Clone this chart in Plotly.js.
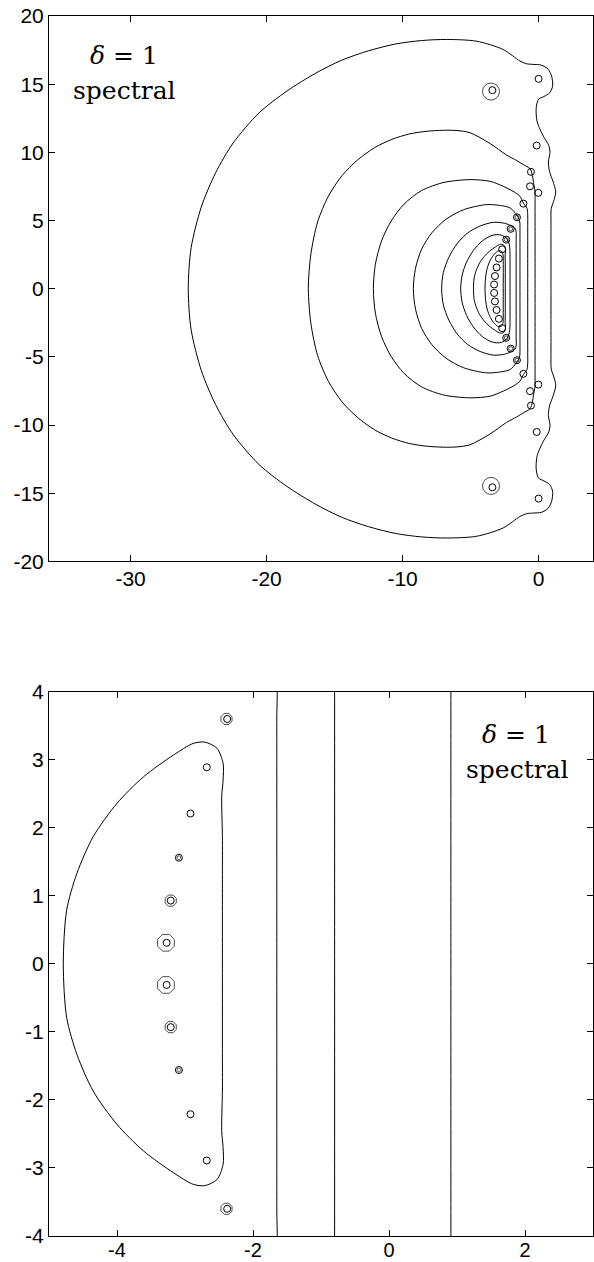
<!DOCTYPE html>
<html><head><meta charset="utf-8">
<script src="https://cdn.plot.ly/plotly-3.0.1.min.js"></script>
<style>body{margin:0;background:#fff}#plot{width:594px;height:1262px}</style>
</head><body><div id="plot"></div>
<script>
// ---- contour levels (upper half, y >= 0; lower half is the mirror image) ----
const c1x = [-25.76,-25.55,-24.8,-23.75,-22.45,-20.55,-18.5,-16.4,-14.5,-12.5,-10.5,-8.6,-6.76,-4.55,-2.6,-1.37,-0.9,-0.4,0.2,0.7,0.96,1.03,0.8,0.4,-0.02,-0.18,-0.12,0.1,0.35,0.75,0.84,0.72,0.8,1.05,1.26,1.1,0.93,0.91,0.91,0.91];
const c1y = [0,3.0,6.0,8.5,10.7,12.9,14.5,15.8,16.75,17.45,17.95,18.2,18.28,18.15,17.54,16.7,16.5,16.45,16.4,16.1,15.58,14.85,14.35,14.1,13.87,13.2,12.3,11.7,11.18,10.5,10.0,9.3,8.6,7.9,7.1,6.4,5.9,5.0,4.2,0];
const c2x = [-16.93,-16.75,-16.25,-15.45,-14.45,-13.3,-12.05,-10.8,-9.5,-8.2,-7.0,-6.0,-5.04,-3.57,-2.35,-1.61,-1.12,-0.63,-0.45,-0.38,-0.28,-0.26,-0.26,-0.26];
const c2y = [0,2.5,4.9,6.8,8.3,9.45,10.35,10.95,11.35,11.55,11.62,11.6,11.44,10.65,9.8,9.4,9.1,8.8,8.3,7.8,7.3,6.7,6.0,0];
const c3x = [-12.15,-12.0,-11.55,-10.85,-9.9,-8.6,-6.95,-5.04,-3.57,-2.6,-1.8,-1.37,-1.12,-0.85,-0.80,-0.80,-0.80];
const c3y = [0,1.8,3.5,4.95,6.2,7.2,7.8,8.0,7.88,7.51,7.1,6.78,6.29,5.9,5.4,4.7,0];
const c4x = [-9.21,-9.05,-8.6,-7.85,-6.8,-5.5,-3.82,-2.8,-2.1,-1.61,-1.4,-1.37,-1.37,-1.37];
const c4y = [0,1.5,2.9,4.1,5.1,5.8,6.17,6.1,5.93,5.4,5.0,4.6,4.0,0];
const c5x = [-7.13,-7.0,-6.6,-6.0,-5.2,-4.3,-3.33,-2.5,-1.98,-1.72,-1.65,-1.65,-1.65];
const c5y = [0,1.2,2.3,3.3,4.1,4.6,4.87,4.8,4.6,4.42,4.15,3.6,0];
const c6x = [-5.73,-5.62,-5.3,-4.8,-4.15,-3.5,-3.08,-2.7,-2.4,-2.2,-2.12,-2.10,-2.10,-2.10];
const c6y = [0,1.0,1.95,2.8,3.5,3.88,3.97,3.92,3.73,3.4,3.0,2.6,2.1,0];
const c7x = [-4.79,-4.74,-4.59,-4.35,-4.0,-3.61,-3.17,-2.88,-2.71,-2.53,-2.44,-2.44,-2.46,-2.45,-2.45,-2.45];
const c7y = [0,0.79,1.33,1.87,2.36,2.75,3.07,3.24,3.26,3.17,2.95,2.70,2.46,1.87,1.3,0];
const c8x = [-3.94,-3.9,-3.78,-3.55,-3.25,-2.95,-2.72,-2.62,-2.6,-2.6,-2.6];
const c8y = [0,0.8,1.5,2.1,2.55,2.78,2.75,2.5,2.0,1.5,0];

// ---- eigenvalues (upper half; conjugate pairs) ----
const eigX = [-3.27,-3.21,-3.09,-2.92,-2.68,-2.38,-2.05,-1.59,-1.12,-0.02,-0.63,-0.56,-0.14,-3.4,0.0];
const eigY = [0.31,0.93,1.56,2.21,2.89,3.60,4.39,5.24,6.24,7.03,7.51,8.57,10.5,14.56,15.39];

// ---- small closed contours hugging eigenvalues ----
const ringTopX = [-3.5,-2.38,-2.05,-1.59];
const ringTopY = [14.46,3.60,4.39,5.24];
const ringTopS = [17,4,4,4];
const ringBotX = [-3.28,-3.21,-2.39,-3.09];
const ringBotY = [0.31,0.93,3.60,1.56];
const ringBotS = [18,12,12,4];

// tick labels
const xTop = [-30,-20,-10,0], yTop = [-20,-15,-10,-5,0,5,10,15,20];
const xBot = [-4,-2,0,2], yBot = [-4,-3,-2,-1,0,1,2,3,4];
const lab = v => v.map(String);

// closed path: start at right end (y=0) -> lower half -> left end -> upper half
function closeMirror(xs, ys){
  const n = xs.length, X = [xs[n-1]], Y = [0];
  for (let i = n - 2; i >= 1; i--) { X.push(xs[i]); Y.push(-ys[i]); }
  for (let i = 0; i < n; i++) { X.push(xs[i]); Y.push(ys[i]); }
  return [X, Y];
}
function pairs(xs, ys){
  const X = [], Y = [];
  xs.forEach((v,i)=>{ X.push(v); Y.push(ys[i]); X.push(v); Y.push(-ys[i]); });
  return [X, Y];
}
const lineStyle = {color:'#000', width:1, shape:'spline', smoothing:0.8};
const traces = [];
function addContour(xs, ys, xa, ya){
  const [X, Y] = closeMirror(xs, ys);
  traces.push({type:'scatter', mode:'lines', x:X, y:Y, xaxis:xa, yaxis:ya, line:lineStyle, hoverinfo:'skip'});
}
[[c1x,c1y],[c2x,c2y],[c3x,c3y],[c4x,c4y],[c5x,c5y],[c6x,c6y],[c7x,c7y],[c8x,c8y]].forEach(c=>addContour(c[0],c[1],'x','y'));
[[c1x,c1y],[c3x,c3y],[c5x,c5y],[c7x,c7y]].forEach(c=>addContour(c[0],c[1],'x2','y2'));

function addRings(xs, ys, ss, xa, ya, sym){
  const [X, Y] = pairs(xs, ys);
  const S = []; ss.forEach(s=>{S.push(s);S.push(s);});
  traces.push({type:'scatter', mode:'markers', x:X, y:Y, xaxis:xa, yaxis:ya,
    marker:{symbol:sym, size:S, color:'#000', line:{color:'#000', width:1}}, hoverinfo:'skip'});
}
addRings(ringTopX, ringTopY, ringTopS, 'x', 'y', 'circle-open');
addRings(ringBotX, ringBotY, ringBotS, 'x2', 'y2', 'octagon-open');

const [EX, EY] = pairs(eigX, eigY);
['x','x2'].forEach((xa,i)=>{
  traces.push({type:'scatter', mode:'markers', x:EX, y:EY, xaxis:xa, yaxis:(i?'y2':'y'),
    marker:{symbol:'circle-open', size:7, color:'#000', line:{color:'#000', width:1}}, hoverinfo:'skip'});
});

const tf = {family:'Liberation Sans, Arial, sans-serif', size:21, color:'#000'};
const axBase = {showgrid:false, zeroline:false, showline:true, linecolor:'#000', linewidth:1,
  mirror:'ticks', ticks:'inside', ticklen:6, tickwidth:1, tickcolor:'#000', tickfont:tf, tickmode:'array'};

const layout = {
  width:594, height:1262, showlegend:false,
  paper_bgcolor:'#fff', plot_bgcolor:'#fff',
  margin:{l:49, r:1, t:16, b:26},
  xaxis: Object.assign({}, axBase, {domain:[0,1], range:[-36,4], tickvals:xTop, ticktext:lab(xTop), anchor:'y', ticklabelstandoff:-2}),
  yaxis: Object.assign({}, axBase, {domain:[0.5529,1], range:[-20,20], tickvals:yTop, ticktext:lab(yTop), anchor:'x'}),
  xaxis2: Object.assign({}, axBase, {domain:[0,1], range:[-5,3], tickvals:xBot, ticktext:lab(xBot), anchor:'y2', ticklabelstandoff:-4,
     tickfont:Object.assign({}, tf, {size:20})}),
  yaxis2: Object.assign({}, axBase, {domain:[0,0.4461], range:[-4,4], tickvals:yBot, ticktext:lab(yBot), anchor:'x2'}),
  annotations:[
    {xref:'paper', yref:'paper', x:0.1379, y:0.968, text:'<i>δ</i> = 1', showarrow:false, xanchor:'center', yanchor:'middle',
     font:{family:'DejaVu Serif, serif', size:25, color:'#000'}},
    {xref:'paper', yref:'paper', x:0.1388, y:0.939, text:'spectral', showarrow:false, xanchor:'center', yanchor:'middle',
     font:{family:'DejaVu Serif, serif', size:25, color:'#000'}},
    {xref:'paper', yref:'paper', x:0.858, y:0.4107, text:'<i>δ</i> = 1', showarrow:false, xanchor:'center', yanchor:'middle',
     font:{family:'DejaVu Serif, serif', size:25, color:'#000'}},
    {xref:'paper', yref:'paper', x:0.861, y:0.382, text:'spectral', showarrow:false, xanchor:'center', yanchor:'middle',
     font:{family:'DejaVu Serif, serif', size:25, color:'#000'}}
  ]
};
Plotly.newPlot('plot', traces, layout, {staticPlot:true, displayModeBar:false});
</script></body></html>
